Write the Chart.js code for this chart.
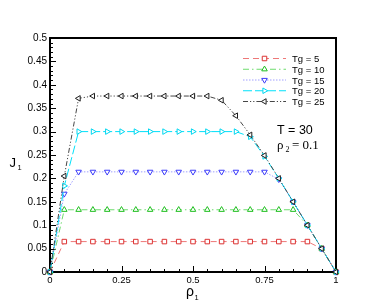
<!DOCTYPE html>
<html>
<head>
<meta charset="utf-8">
<script src="https://cdn.jsdelivr.net/npm/chart.js@4/dist/chart.umd.min.js"></script>
<style>
html,body{margin:0;padding:0;background:#fff;}
#wrap{width:382px;height:306px;position:relative;}
</style>
</head>
<body>
<div id="wrap"><canvas id="c" width="382" height="306"></canvas></div>
<script>
// ---- data ----
const rho   = [0,0.05,0.1,0.15,0.2,0.25,0.3,0.35,0.4,0.45,0.5,0.55,0.6,0.65,0.7,0.75,0.8,0.85,0.9,0.95,1];
const tg5   = [0,0.065,0.065,0.065,0.065,0.065,0.065,0.065,0.065,0.065,0.065,0.065,0.065,0.065,0.065,0.065,0.065,0.065,0.065,0.05,0];
const tg10  = [0,0.133,0.133,0.133,0.133,0.133,0.133,0.133,0.133,0.133,0.133,0.133,0.133,0.133,0.133,0.133,0.133,0.133,0.1,0.05,0];
const tg15  = [0,0.167,0.214,0.214,0.214,0.214,0.214,0.214,0.214,0.214,0.214,0.214,0.214,0.214,0.214,0.214,0.198,0.15,0.1,0.05,0];
const tg20  = [0,0.184,0.3,0.3,0.3,0.3,0.3,0.3,0.3,0.3,0.3,0.3,0.3,0.3,0.289,0.247,0.2,0.15,0.1,0.05,0];
const tg25  = [0,0.205,0.371,0.376,0.376,0.376,0.376,0.376,0.376,0.376,0.376,0.376,0.367,0.334,0.293,0.249,0.2,0.15,0.1,0.05,0];
const seriesLabels = ['Tg = 5','Tg = 10','Tg = 15','Tg = 20','Tg = 25'];
const xTickValues = [0,0.25,0.5,0.75,1];
const yMin = 0, yMax = 0.5, yStep = 0.05;
const annotT = 'T = 30';
const annotRho = '0.1';

// ---- styles ----
const styles = [
  {line:'rgb(238,120,120)', pt:'rgb(220,50,50)',  dash:[6,4],          ps:'rect',     rot:0},
  {line:'rgb(110,220,110)', pt:'rgb(30,190,30)',  dash:[6,3,1.5,3],    ps:'triangle', rot:0},
  {line:'rgb(160,160,255)', pt:'rgb(60,60,250)',  dash:[1.5,1.5],      ps:'triangle', rot:180},
  {line:'rgb(0,225,250)',   pt:'rgb(0,215,240)',  dash:[9,3],          ps:'triangle', rot:90},
  {line:'rgb(70,70,70)',    pt:'rgb(30,30,30)',   dash:[5,2,1.2,2,1.2,2], ps:'triangle', rot:-90}
];
const allSeries = [tg5,tg10,tg15,tg20,tg25];
const fmt = v => String(+(+v).toFixed(2));

const datasets = allSeries.map((s,i)=>({
  label: seriesLabels[i],
  data: rho.map((x,k)=>({x:x,y:s[k]})),
  borderColor: styles[i].line,
  borderWidth: 1,
  borderDash: styles[i].dash,
  pointStyle: styles[i].ps,
  rotation: styles[i].rot,
  pointRadius: 3.2,
  pointBorderWidth: 1,
  pointBorderColor: styles[i].pt,
  pointBackgroundColor: 'rgba(255,255,255,1)',
  tension: 0,
  clip: false,
  order: 5 - i
}));

const deco = {
  id:'deco',
  beforeDatasetsDraw(chart){
    const ctx = chart.ctx, a = chart.chartArea;
    const xs = chart.scales.x, ys = chart.scales.y;
    ctx.save();
    ctx.strokeStyle = '#000';
    ctx.lineWidth = 1;
    ctx.beginPath();
    // y ticks (inward)
    for (let k=0;k<=50;k++){
      const v = k*0.01;
      const py = Math.round(ys.getPixelForValue(v))+0.5;
      const len = (k%5===0)?6:3;
      ctx.moveTo(a.left, py); ctx.lineTo(a.left+len, py);
    }
    // x ticks (inward)
    for (let k=0;k<=20;k++){
      const v = k*0.05;
      const px = Math.round(xs.getPixelForValue(v))+0.5;
      const len = (k%5===0)?6:3;
      ctx.moveTo(px, a.bottom); ctx.lineTo(px, a.bottom-len);
    }
    ctx.stroke();
    // frame
    ctx.lineWidth = 2;
    ctx.strokeRect(a.left, a.top, a.right-a.left, a.bottom-a.top);
    ctx.restore();
  },
  afterDraw(chart){
    const ctx = chart.ctx;
    ctx.save();
    // legend
    const x0 = 243, x1 = 286, xm = 264.5, tx = 292;
    chart.data.datasets.forEach((ds,i)=>{
      const y = 58.5 + i*10.75;
      ctx.save();
      ctx.strokeStyle = ds.borderColor;
      ctx.lineWidth = 1;
      ctx.setLineDash(ds.borderDash);
      ctx.beginPath(); ctx.moveTo(x0,y); ctx.lineTo(x1,y); ctx.stroke();
      ctx.setLineDash([]);
      ctx.strokeStyle = ds.pointBorderColor;
      ctx.fillStyle = '#fff';
      ctx.lineWidth = 1;
      Chart.helpers.drawPoint(ctx,{pointStyle:ds.pointStyle,radius:3.2,rotation:ds.rotation,borderWidth:1},xm,y);
      ctx.restore();
      ctx.fillStyle = '#000';
      ctx.font = '9.5px "Liberation Sans", Arial, sans-serif';
      ctx.textBaseline = 'alphabetic';
      ctx.fillText(ds.label, tx, y+3.5);
    });
    // annotations
    ctx.fillStyle = '#000';
    ctx.font = '12.5px "Liberation Sans", Arial, sans-serif';
    ctx.fillText(annotT, 277, 134);
    ctx.font = '13px "Liberation Serif", "Times New Roman", serif';
    ctx.fillText('ρ', 277, 148.5);
    ctx.font = '8px "Liberation Serif", "Times New Roman", serif';
    ctx.fillText('2', 285.5, 152);
    ctx.font = '13px "Liberation Serif", "Times New Roman", serif';
    ctx.fillText('= ' + annotRho, 292, 148.5);
    // axis titles
    ctx.font = '13px "Liberation Sans", Arial, sans-serif';
    ctx.fillText('J', 9.5, 167);
    ctx.font = '7.5px "Liberation Sans", Arial, sans-serif';
    ctx.fillText('1', 17.5, 170);
    ctx.font = '14px "Liberation Sans", Arial, sans-serif';
    ctx.fillText('ρ', 186, 296);
    ctx.font = '7.5px "Liberation Sans", Arial, sans-serif';
    ctx.fillText('1', 194.5, 300);
    ctx.restore();
  }
};

new Chart(document.getElementById('c'), {
  type:'line',
  data:{datasets},
  options:{
    responsive:false,
    animation:false,
    devicePixelRatio:1,
    layout:{padding:{left:0,right:46,top:38,bottom:0}},
    plugins:{legend:{display:false},tooltip:{enabled:false}},
    scales:{
      x:{
        type:'linear', min:0, max:1,
        afterBuildTicks(s){ s.ticks = xTickValues.map(v=>({value:v})); },
        afterFit(s){ s.height = 34; },
        grid:{display:false, drawTicks:false},
        border:{display:false},
        ticks:{padding:3, color:'#000', maxRotation:0, autoSkip:false,
               font:{family:'"Liberation Sans", Arial, sans-serif', size:9.5},
               callback:v=>fmt(v)}
      },
      y:{
        type:'linear', min:yMin, max:yMax,
        afterBuildTicks(s){ const t=[]; for(let k=0;k<=Math.round((yMax-yMin)/yStep);k++) t.push({value:+(yMin+k*yStep).toFixed(2)}); s.ticks=t; },
        afterFit(s){ s.width = 50; },
        grid:{display:false, drawTicks:false},
        border:{display:false},
        ticks:{padding:3, color:'#000', autoSkip:false,
               font:{family:'"Liberation Sans", Arial, sans-serif', size:10},
               callback:v=>fmt(v)}
      }
    }
  },
  plugins:[deco]
});
</script>
</body>
</html>
